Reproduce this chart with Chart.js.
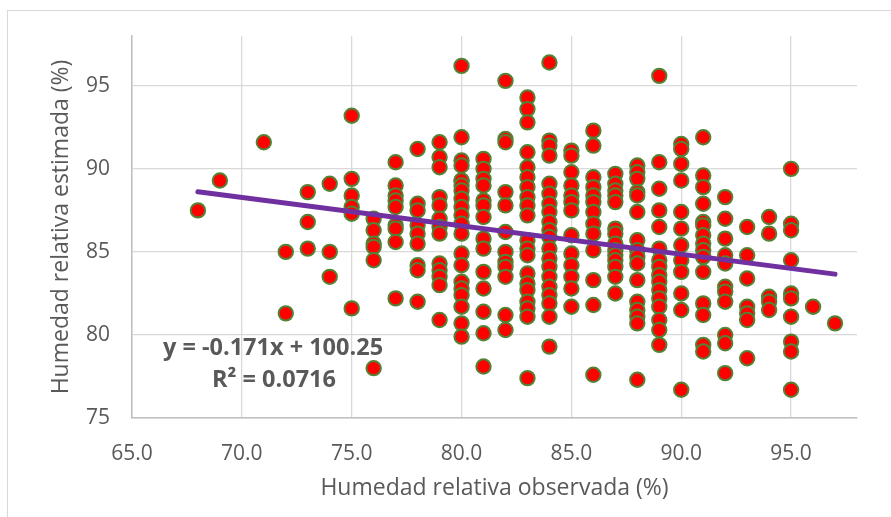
<!DOCTYPE html>
<html>
<head>
<meta charset="utf-8">
<script src="https://cdn.jsdelivr.net/npm/chart.js@4"></script>
<style>
  html, body { margin: 0; padding: 0; background: #fff; overflow: hidden; }
  #frame { position: absolute; left: 7px; top: 10px; width: 920px; height: 560px; border: 1px solid #d9d9d9; }
  #wrap { position: absolute; left: 0; top: 0; width: 891px; height: 517px; }
</style>
</head>
<body>
<div id="frame"></div>
<div id="wrap"><canvas id="chart" width="891" height="517"></canvas></div>
<script>
const observed = [68, 69, 71, 72, 73, 74, 75, 76, 77, 78, 79, 80, 81, 82, 83, 84, 85, 86, 87, 88, 89, 90, 91, 92, 93, 94, 95, 96, 97];
const estimated = [
  [87.5],
  [89.3],
  [91.6],
  [85.0, 81.3],
  [88.6, 86.8, 85.2],
  [89.1, 85.0, 83.5],
  [93.2, 89.4, 88.4, 87.7, 87.3, 81.6],
  [87.0, 86.3, 85.5, 85.3, 84.5, 78.0],
  [90.4, 89.0, 88.4, 88.1, 87.7, 86.6, 86.4, 85.6, 82.2],
  [91.2, 87.9, 87.5, 86.6, 86.1, 85.5, 84.2, 83.9, 82.0],
  [91.6, 90.7, 90.1, 88.3, 87.8, 87.0, 86.5, 86.1, 84.3, 83.9, 83.5, 83.0, 80.9],
  [96.2, 91.9, 90.5, 90.2, 89.3, 89.3, 89.0, 88.7, 88.2, 87.7, 87.2, 86.7, 86.1, 84.9, 84.2, 83.2, 82.8, 82.4, 81.7, 80.7, 79.9],
  [90.6, 90.0, 89.4, 89.0, 88.1, 87.8, 87.1, 85.8, 85.2, 83.8, 82.8, 81.4, 80.1, 78.1],
  [95.3, 91.8, 91.6, 88.6, 87.8, 86.2, 85.0, 84.4, 84.1, 83.5, 81.2, 80.3],
  [94.3, 93.6, 92.8, 91.0, 90.1, 89.5, 88.9, 88.3, 87.8, 87.2, 85.7, 85.2, 84.8, 83.7, 83.1, 82.7, 82.0, 81.6, 81.1, 77.4],
  [96.4, 91.7, 91.4, 90.8, 89.1, 88.5, 87.9, 87.4, 86.8, 86.3, 85.9, 85.2, 84.6, 84.1, 83.5, 82.9, 82.4, 81.9, 81.1, 79.3],
  [91.1, 90.8, 89.8, 89.0, 88.4, 88.0, 87.5, 86.0, 84.9, 84.2, 83.5, 82.8, 81.7],
  [92.3, 91.4, 89.5, 88.9, 88.4, 88.0, 87.4, 86.7, 86.1, 85.1, 83.3, 81.8, 77.6],
  [89.7, 89.1, 88.7, 88.4, 88.0, 86.4, 86.1, 85.5, 85.1, 84.8, 84.5, 84.1, 83.5, 82.5],
  [90.2, 89.8, 89.4, 88.6, 88.4, 87.4, 85.7, 85.1, 84.7, 84.3, 83.3, 82.0, 81.5, 81.1, 80.7, 77.3],
  [95.6, 90.4, 88.8, 87.5, 86.5, 85.2, 84.5, 84.1, 83.6, 83.2, 82.7, 82.2, 81.7, 80.9, 80.3, 79.4],
  [91.5, 91.2, 90.3, 89.3, 87.4, 86.4, 85.4, 84.5, 83.8, 82.5, 81.5, 76.7],
  [91.9, 89.6, 88.9, 87.9, 86.8, 86.6, 86.0, 85.5, 85.1, 84.7, 83.8, 81.9, 81.2, 79.4, 79.0],
  [88.3, 87.0, 85.8, 84.8, 84.3, 82.9, 82.6, 82.0, 80.0, 79.5, 77.7],
  [86.5, 84.8, 83.4, 81.7, 81.3, 80.9, 78.6],
  [87.1, 86.1, 82.3, 82.0, 81.5],
  [90.0, 86.7, 86.3, 84.5, 82.5, 82.2, 81.1, 79.6, 79.0, 76.7],
  [81.7],
  [80.7]
];
// trendline as printed on the chart
const slope = -0.171;
const intercept = 100.25;
const eqLines = ['y = -0.171x + 100.25', 'R\u00b2 = 0.0716'];

const points = [];
observed.forEach((x, i) => {
  estimated[i].forEach(y => points.push({ x: x, y: y }));
});
const xFirst = observed[0];
const xLast = observed[observed.length - 1];
const trend = [
  { x: xFirst, y: slope * xFirst + intercept },
  { x: xLast, y: slope * xLast + intercept }
];

const FONT = "'Open Sans', sans-serif";
const GRAY = '#595959';

const equationLabel = {
  id: 'equationLabel',
  afterDatasetsDraw(chart) {
    const ctx = chart.ctx;
    const a = chart.chartArea;
    ctx.save();
    ctx.fillStyle = GRAY;
    ctx.font = 'bold 23.5px ' + FONT;
    ctx.textAlign = 'center';
    ctx.textBaseline = 'middle';
    ctx.fillText(eqLines[0], a.left + 141, a.top + 312);
    ctx.fillText(eqLines[1], a.left + 142, a.top + 344);
    ctx.restore();
  }
};

new Chart(document.getElementById('chart'), {
  type: 'scatter',
  data: {
    datasets: [
      {
        type: 'line',
        data: trend,
        borderColor: '#7030A0',
        borderWidth: 5,
        borderCapStyle: 'round',
        pointRadius: 0,
        fill: false
      },
      {
        data: points,
        backgroundColor: '#FF0000',
        borderColor: '#548235',
        borderWidth: 2,
        pointRadius: 7.2,
        pointHoverRadius: 7.2
      }
    ]
  },
  options: {
    responsive: false,
    animation: false,
    layout: { padding: { left: 0, top: 36, right: 34, bottom: 0 } },
    plugins: { legend: { display: false }, tooltip: { enabled: false } },
    scales: {
      x: {
        type: 'linear',
        min: 65,
        max: 98,
        afterFit(s) { s.height = 99; },
        ticks: {
          stepSize: 5,
          includeBounds: false,
          padding: 23,
          color: GRAY,
          font: { family: FONT, size: 21 },
          callback: v => v.toFixed(1)
        },
        grid: { color: '#d9d9d9', lineWidth: 1.3, drawTicks: false },
        border: { color: '#bfbfbf', width: 1.5 },
        title: {
          display: true,
          text: 'Humedad relativa observada (%)',
          color: GRAY,
          font: { family: FONT, size: 23 },
          padding: { top: 0, bottom: 15 }
        }
      },
      y: {
        type: 'linear',
        min: 75,
        max: 98,
        afterFit(s) { s.width = 132; },
        ticks: {
          stepSize: 5,
          includeBounds: false,
          padding: 22,
          color: GRAY,
          font: { family: FONT, size: 21 }
        },
        grid: { color: '#d9d9d9', lineWidth: 1.3, drawTicks: false },
        border: { color: '#bfbfbf', width: 1.5 },
        title: {
          display: true,
          text: 'Humedad relativa estimada (%)',
          color: GRAY,
          font: { family: FONT, size: 23 },
          padding: { top: 48, bottom: 0 }
        }
      }
    }
  },
  plugins: [equationLabel]
});
</script>
</body>
</html>
